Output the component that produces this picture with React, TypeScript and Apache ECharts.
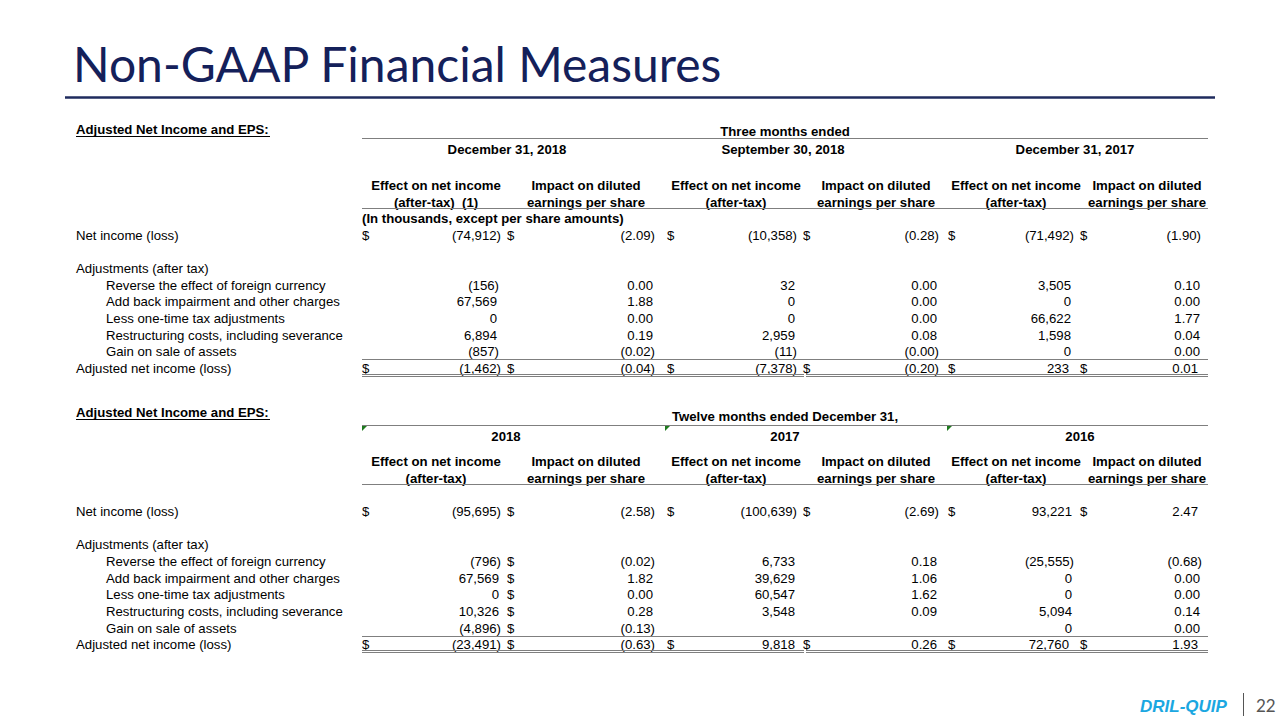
import React, { useEffect, useRef } from "react";
import * as echarts from "echarts";

// ---------- data ----------
const slideTitle = "Non-GAAP Financial Measures";
const sectionTitle = "Adjusted Net Income and EPS:";
const topGroupTitle = "Three months ended";
const bottomGroupTitle = "Twelve months ended December 31,";
const topPeriods = ["December 31, 2018", "September 30, 2018", "December 31, 2017"];
const bottomPeriods = ["2018", "2017", "2016"];
const incomeHeader = ["Effect on net income", "(after-tax)"];
const epsHeader = ["Impact on diluted", "earnings per share"];
const unitsNote = "(In thousands, except per share amounts)";
const netIncomeLabel = "Net income (loss)";
const adjustmentsLabel = "Adjustments (after tax)";
const adjustedLabel = "Adjusted net income (loss)";
const adjustmentLabels = [
  "Reverse the effect of foreign currency",
  "Add back impairment and other charges",
  "Less one-time tax adjustments",
  "Restructuring costs, including severance",
  "Gain on sale of assets",
];

// Three months ended (Dec 31 2018 | Sep 30 2018 | Dec 31 2017), income / EPS pairs
const qtrNetIncome = ["(74,912)", "(2.09)", "(10,358)", "(0.28)", "(71,492)", "(1.90)"];
const qtrForeignCurrency = ["(156)", "0.00", "32", "0.00", "3,505", "0.10"];
const qtrImpairment = ["67,569", "1.88", "0", "0.00", "0", "0.00"];
const qtrTaxAdjustments = ["0", "0.00", "0", "0.00", "66,622", "1.77"];
const qtrRestructuring = ["6,894", "0.19", "2,959", "0.08", "1,598", "0.04"];
const qtrGainOnSale = ["(857)", "(0.02)", "(11)", "(0.00)", "0", "0.00"];
const qtrAdjusted = ["(1,462)", "(0.04)", "(7,378)", "(0.20)", "233", "0.01"];

// Twelve months ended Dec 31 (2018 | 2017 | 2016)
const fyNetIncome = ["(95,695)", "(2.58)", "(100,639)", "(2.69)", "93,221", "2.47"];
const fyForeignCurrency = ["(796)", "(0.02)", "6,733", "0.18", "(25,555)", "(0.68)"];
const fyImpairment = ["67,569", "1.82", "39,629", "1.06", "0", "0.00"];
const fyTaxAdjustments = ["0", "0.00", "60,547", "1.62", "0", "0.00"];
const fyRestructuring = ["10,326", "0.28", "3,548", "0.09", "5,094", "0.14"];
const fyGainOnSale = ["(4,896)", "(0.13)", "", "", "0", "0.00"];
const fyAdjusted = ["(23,491)", "(0.63)", "9,818", "0.26", "72,760", "1.93"];

const pageNumber = "22";
const logoText = "DRIL-QUIP";

// ---------- layout / style ----------
const FONT = '"Liberation Sans", Arial, sans-serif';
const TITLE_FONT = "Lato, 'Open Sans', sans-serif";
const NAVY = "#14205a";
const GRID = "#7f7f7f";
const FS = 13.2;

const colCenters = [436, 586, 736, 876, 1016, 1147];
const tableLeft = 362;
const tableRight = 1208;

function txt(x: number, y: number, text: string, o: any = {}) {
  return {
    type: "text",
    x,
    y,
    silent: true,
    style: {
      text,
      fill: o.fill || "#000",
      fontSize: o.size || FS,
      fontFamily: o.family || FONT,
      fontWeight: o.weight || "normal",
      fontStyle: o.style || "normal",
      textAlign: o.align || "left",
      textVerticalAlign: o.valign || "middle",
    },
  };
}
function hline(x1: number, x2: number, y: number, color = GRID, w = 1) {
  return {
    type: "line",
    silent: true,
    shape: { x1, y1: y, x2, y2: y },
    style: { stroke: color, lineWidth: w },
  };
}
function triangle(x: number, y: number) {
  return {
    type: "polygon",
    silent: true,
    shape: { points: [[x, y], [x + 5, y], [x, y + 5]] },
    style: { fill: "#1f7a1f" },
  };
}

function valueCells(vals: string[], y: number, rights: number[], dollars: (number | null)[]) {
  const els: any[] = [];
  vals.forEach((v, i) => {
    if (v !== "") {
      const paren = v.startsWith("(");
      els.push(txt(paren ? rights[i] : rights[i] - 2, y, v, { align: "right" }));
    }
    const d = dollars[i];
    if (d != null) els.push(txt(d, y, "$"));
  });
  return els;
}

function buildTable(cfg: any) {
  const els: any[] = [];
  els.push(txt(76, cfg.sectionY, sectionTitle, { weight: "bold" }));
  els.push(hline(76, 270, cfg.sectionY + 7.5, "#000", 1));
  els.push(txt(785, cfg.groupY, cfg.groupTitle, { weight: "bold", align: "center" }));
  els.push(hline(tableLeft, tableRight, cfg.groupLineY + 0.5));
  cfg.triangles.forEach((x: number) => els.push(triangle(x, cfg.groupLineY + 1)));
  cfg.periods.forEach((p: string, i: number) =>
    els.push(txt(cfg.periodCenters[i], cfg.periodY, p, { weight: "bold", align: "center" }))
  );
  colCenters.forEach((c, i) => {
    const h = i % 2 === 0 ? incomeHeader : epsHeader;
    const second = i === 0 && cfg.firstNote ? h[1] + "  (1)" : h[1];
    els.push(txt(c, cfg.head1Y, h[0], { weight: "bold", align: "center" }));
    els.push(txt(c, cfg.head2Y, second, { weight: "bold", align: "center" }));
  });
  els.push(hline(tableLeft, tableRight, cfg.headLineY + 0.5));
  if (cfg.note) els.push(txt(tableLeft, cfg.noteY, unitsNote, { weight: "bold" }));
  els.push(txt(76, cfg.netY, netIncomeLabel));
  els.push(...valueCells(cfg.net, cfg.netY, cfg.netR, cfg.netDollars));
  els.push(txt(76, cfg.adjHeadY, adjustmentsLabel));
  cfg.rows.forEach((r: string[], k: number) => {
    els.push(txt(106, cfg.rowY[k], adjustmentLabels[k]));
    els.push(...valueCells(r, cfg.rowY[k], cfg.rowR, cfg.rowDollars));
  });
  els.push(hline(tableLeft, tableRight, cfg.sumLineY + 0.5));
  els.push(txt(76, cfg.adjY, adjustedLabel));
  els.push(...valueCells(cfg.adjusted, cfg.adjY, cfg.adjR, cfg.adjDollars));
  [cfg.dblY, cfg.dblY + 2].forEach((y: number) => {
    els.push(hline(tableLeft, 804, y + 0.5));
    els.push(hline(806, tableRight, y + 0.5));
  });
  return els;
}

const allDollars = [362, 507, 667, 803, 948, 1080];
const noDollars = [null, null, null, null, null, null];

const topTable = {
  sectionY: 129,
  groupTitle: topGroupTitle,
  groupY: 131,
  groupLineY: 138,
  triangles: [],
  periods: topPeriods,
  periodCenters: [507, 783, 1075],
  periodY: 149,
  head1Y: 185,
  head2Y: 202,
  headLineY: 208,
  firstNote: true,
  note: true,
  noteY: 218,
  netY: 235,
  net: qtrNetIncome,
  netR: [501, 655, 797, 939, 1074, 1201],
  netDollars: allDollars,
  adjHeadY: 268,
  rowY: [285, 301, 318, 335, 351],
  rows: [qtrForeignCurrency, qtrImpairment, qtrTaxAdjustments, qtrRestructuring, qtrGainOnSale],
  rowR: [499, 655, 797, 939, 1073, 1202],
  rowDollars: noDollars,
  sumLineY: 359,
  adjY: 368,
  adjusted: qtrAdjusted,
  adjR: [501, 655, 797, 939, 1071, 1200],
  adjDollars: allDollars,
  dblY: 374,
};

const bottomTable = {
  sectionY: 412,
  groupTitle: bottomGroupTitle,
  groupY: 416,
  groupLineY: 425,
  triangles: [362, 665, 947],
  periods: bottomPeriods,
  periodCenters: [506, 785, 1080],
  periodY: 436,
  head1Y: 461,
  head2Y: 478,
  headLineY: 484,
  firstNote: false,
  note: false,
  noteY: 0,
  netY: 511,
  net: fyNetIncome,
  netR: [501, 655, 797, 939, 1074, 1200],
  netDollars: allDollars,
  adjHeadY: 544,
  rowY: [561, 578, 594, 611, 628],
  rows: [fyForeignCurrency, fyImpairment, fyTaxAdjustments, fyRestructuring, fyGainOnSale],
  rowR: [501, 655, 797, 939, 1074, 1202],
  rowDollars: [null, 507, null, null, null, null],
  sumLineY: 636,
  adjY: 644,
  adjusted: fyAdjusted,
  adjR: [501, 655, 797, 939, 1071, 1200],
  adjDollars: allDollars,
  dblY: 650,
};

export default function App() {
  const ref = useRef<HTMLDivElement>(null);
  useEffect(() => {
    document.body.style.margin = "0";
    if (!ref.current) return;
    const chart = echarts.init(ref.current, undefined, { renderer: "svg" });
    const elements: any[] = [
      { type: "rect", silent: true, shape: { x: 0, y: 0, width: 1280, height: 720 }, style: { fill: "#fff" } },
      txt(73, 63, slideTitle, { family: TITLE_FONT, size: 48, fill: NAVY }),
      hline(65, 1215, 97.5, "#1f2b5e", 2.5),
      ...buildTable(topTable),
      ...buildTable(bottomTable),
      txt(1140, 706, logoText, { family: FONT, size: 17, weight: "bold", style: "italic", fill: "#1ba7e1" }),
      { type: "line", silent: true, shape: { x1: 1243.5, y1: 693, x2: 1243.5, y2: 716 }, style: { stroke: "#555", lineWidth: 1 } },
      txt(1256, 705, pageNumber, { family: TITLE_FONT, size: 17, fill: "#555" }),
    ];
    chart.setOption({ animation: false, graphic: { elements } });
    return () => chart.dispose();
  }, []);
  return <div ref={ref} style={{ width: 1280, height: 720 }} />;
}
